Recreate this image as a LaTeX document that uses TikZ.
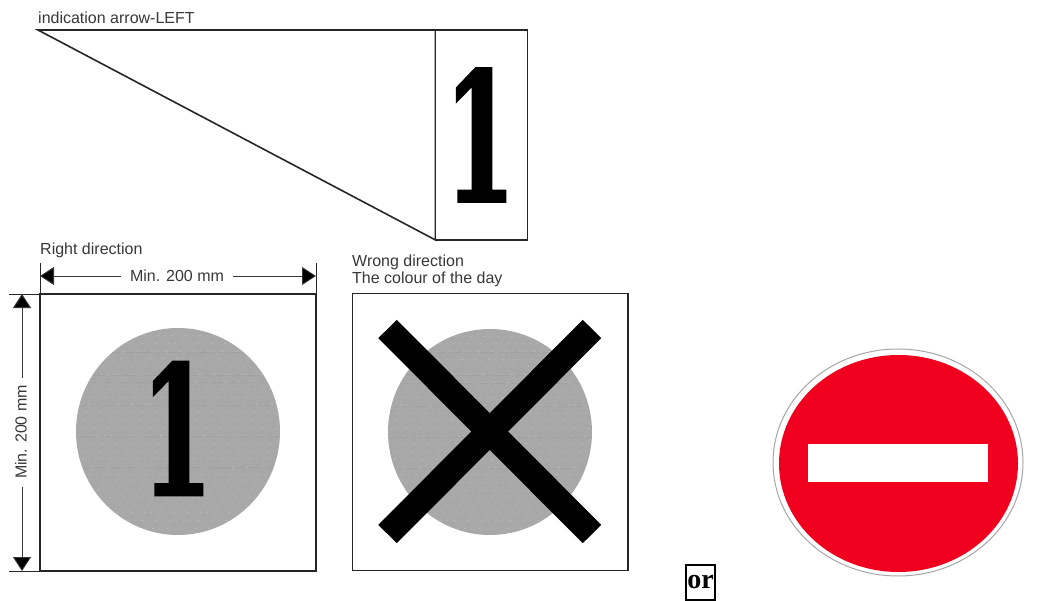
\documentclass[tikz,border=0pt]{standalone}
\usepackage{fontspec}
\setmainfont{Liberation Sans}
\newfontfamily\digitfont{DejaVu Serif Bold}[FakeBold=1.5]
\newfontfamily\orfont{Liberation Serif}
\usetikzlibrary{arrows.meta}
\definecolor{ink}{gray}{0.15}
\definecolor{txt}{gray}{0.22}
\definecolor{disc}{gray}{0.66}
\definecolor{signred}{RGB}{240,0,30}
\newcommand{\bigone}[2]{\resizebox{#1}{#2}{\digitfont 1}}
\tikzset{
  frame/.style={draw=ink,line width=1.6pt,fill=white},
  outline/.style={draw=ink,line width=1.6pt,line join=miter},
  tick/.style={draw=ink,line width=1pt},
  dim/.style={draw=txt,line width=0.9pt},
  tip/.style={-{Triangle[length=14pt,width=18pt,fill=black]}},
  label/.style={font=\fontsize{16}{17}\selectfont,text=txt,inner sep=0pt,anchor=west,align=left},
  armstyle/.style={draw=black,line width=26pt},
  greydisc/.style={fill=disc,draw=none},
  grain/.style={draw=gray!50!white,opacity=.5,line width=.7pt,dash pattern=on 3pt off 4pt on 1pt off 6pt},
  graindark/.style={draw=gray!85,opacity=.3,line width=.7pt,dash pattern=on 9pt off 3pt on 14pt off 5pt},
}
\newcommand{\grainlines}[2]{%
  \begin{scope}
    \clip (#1,#2) ellipse [x radius=101,y radius=102.5];
    \foreach \k in {0,...,25}{
      \draw[grain,dash phase=\k*3 pt] (#1-105,#2-96+\k*7.7) -- (#1+105,#2-96+\k*7.7);
    }
    \foreach \k in {2,5,6,9,13,17}{
      \draw[graindark,dash phase=\k*5 pt] (#1-105,#2-98+\k*7.7+3) -- (#1+105,#2-98+\k*7.7+3);
    }
  \end{scope}}
\begin{document}
\begin{tikzpicture}[x=1pt,y=-1pt]
\useasboundingbox[fill=white] (0,0) rectangle (1056,601);
% top indication arrow
\node[label] (tLabel) at (38,18) {indication arrow-LEFT};
\coordinate (apex) at (38,30);
\coordinate (tr) at (435.5,30);
\coordinate (br) at (435.5,240);
\draw[outline] (apex) -- (tr) -- (br) -- cycle;
\draw[frame] (435.5,30) rectangle (527.5,240);
\node[inner sep=0pt] (tOne) at (480,135) {\bigone{72pt}{133pt}};
% right direction box
\node[label] (rLabel) at (40,250) {Right direction};
\draw[frame] (40,294) rectangle (316,571);
\draw[greydisc] (178,431.5) ellipse [x radius=102,y radius=103.5];
\grainlines{178}{431.5}
\node[inner sep=0pt] (rOne) at (177,428.5) {\bigone{72pt}{133pt}};
% dimensions
\coordinate (ht1) at (40,263); \coordinate (ht1b) at (40,294);
\coordinate (ht2) at (316,263); \coordinate (ht2b) at (316,294);
\draw[tick] (ht1) -- (ht1b);
\draw[tick] (ht2) -- (ht2b);
\node[label,anchor=center] (hDim) at (177,276) {Min. 200 mm};
\coordinate (hL) at (40,276); \coordinate (hR) at (316,276);
\draw[dim,tip] ([xshift=-9pt]hDim.west) -- (hL);
\draw[dim,tip] ([xshift=9pt]hDim.east) -- (hR);
\coordinate (vt1) at (9,294); \coordinate (vt1b) at (40,294);
\coordinate (vt2) at (9,571); \coordinate (vt2b) at (40,571);
\draw[tick] (vt1) -- (vt1b);
\draw[tick] (vt2) -- (vt2b);
\node[label,anchor=center,rotate=90] (vDim) at (21,432) {Min. 200 mm};
\coordinate (vT) at (22,294); \coordinate (vB) at (22,571);
\draw[dim,tip] ([xshift=1pt,yshift=7pt]vDim.east) -- (vT);
\draw[dim,tip] ([xshift=1pt,yshift=-8pt]vDim.west) -- (vB);
% wrong direction box
\node[label] (wLabel) at (352,271) {Wrong direction\\The colour of the day};
\draw[frame] (352.5,293.5) rectangle (628,570.5);
\draw[greydisc] (490,432) ellipse [x radius=102,y radius=103];
\grainlines{490}{432}
\coordinate (x1) at (387.5,329); \coordinate (x2) at (592,534);
\coordinate (x3) at (592,329); \coordinate (x4) at (387.5,534);
\draw[armstyle] (x1) -- (x2);
\draw[armstyle] (x3) -- (x4);
% or
\node[draw=black,line width=1.6pt,minimum width=28.5pt,minimum height=34.5pt,inner sep=0pt,font=\orfont\bfseries\fontsize{28}{28}\selectfont] (orBox) at (700.5,582.5) {or};
% no-entry sign
\draw[draw=gray!70,line width=1pt,fill=white] (898,462.5) ellipse [x radius=125,y radius=113.5];
\fill[signred] (898.5,463.5) ellipse [x radius=119.5,y radius=108.5];
\fill[white] (808,444) rectangle (988,482);
\end{tikzpicture}
\end{document}
